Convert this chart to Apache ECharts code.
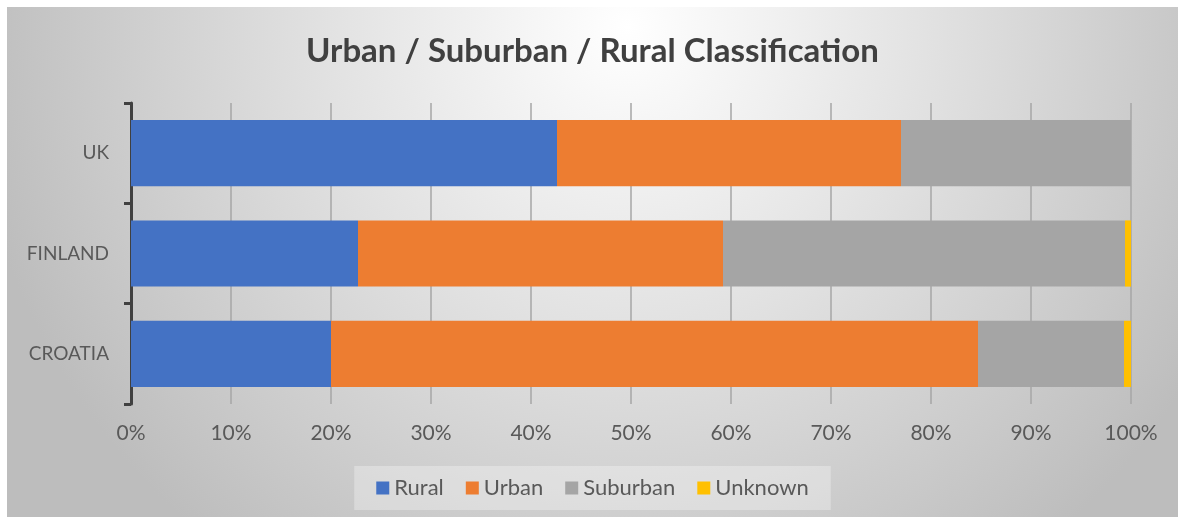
<!DOCTYPE html>
<html>
<head>
<meta charset="utf-8">
<title>Urban / Suburban / Rural Classification</title>
<script src="https://cdn.jsdelivr.net/npm/echarts@6/dist/echarts.min.js"></script>
<style>
  html, body { margin: 0; padding: 0; background: #ffffff; }
  #chart { position: absolute; left: 7px; top: 7px; width: 1171px; height: 510px; }
</style>
</head>
<body>
<div id="chart"></div>
<script>
'use strict';

/* ── Data (percent of each country) ── */
const countries = ['CROATIA', 'FINLAND', 'UK'];
const rural     = [20.0, 22.7, 42.6];
const urban     = [64.7, 36.5, 34.4];
const suburban  = [14.6, 40.2, 23.0];
const unknown   = [0.7, 0.6, 0];
const xTicks    = [0, 10, 20, 30, 40, 50, 60, 70, 80, 90, 100];

const FONT = "Lato, 'Open Sans', sans-serif";
const TEXT = '#595959';

function barSeries(name, data, color) {
  return {
    name: name,
    type: 'bar',
    stack: 'total',
    data: data,
    barWidth: '66%',
    itemStyle: { color: color },
    emphasis: { disabled: true }
  };
}

const chart = echarts.init(document.getElementById('chart'), null, { renderer: 'canvas' });

chart.setOption({
  animation: false,
  backgroundColor: {
    type: 'radial', x: 0.53, y: 0.04, r: 1.3,
    colorStops: [
      { offset: 0, color: '#ffffff' },
      { offset: 0.45, color: '#e2e2e2' },
      { offset: 1, color: '#bdbdbd' }
    ]
  },
  textStyle: { fontFamily: FONT },
  title: {
    text: 'Urban / Suburban / Rural Classification',
    left: 'center',
    top: 23,
    textStyle: { fontFamily: FONT, fontSize: 33, fontWeight: 'bold', color: '#404040' }
  },
  legend: {
    bottom: 7,
    left: 'center',
    itemWidth: 13,
    itemHeight: 13,
    itemGap: 22,
    padding: [11, 22],
    backgroundColor: 'rgba(255,255,255,0.3)',
    icon: 'rect',
    textStyle: { fontFamily: FONT, fontSize: 22, color: TEXT },
    data: ['Rural', 'Urban', 'Suburban', 'Unknown']
  },
  grid: { left: 124, right: 47, top: 96, bottom: 113 },
  xAxis: {
    type: 'value',
    min: xTicks[0],
    max: xTicks[xTicks.length - 1],
    interval: 10,
    axisLine: { show: false },
    axisTick: { show: false },
    axisLabel: {
      formatter: '{value}%',
      fontFamily: FONT, fontSize: 21, color: TEXT, margin: 19
    },
    splitLine: { lineStyle: { color: '#a6a6a6', width: 1.5 } }
  },
  yAxis: {
    type: 'category',
    data: countries,
    axisLine: { lineStyle: { color: '#404040', width: 3 } },
    axisTick: { show: true, length: 7, lineStyle: { color: '#404040', width: 3 } },
    axisLabel: { fontFamily: FONT, fontSize: 19, color: TEXT, margin: 22 }
  },
  series: [
    barSeries('Rural', rural, '#4472c4'),
    barSeries('Urban', urban, '#ed7d31'),
    barSeries('Suburban', suburban, '#a5a5a5'),
    barSeries('Unknown', unknown, '#ffc000')
  ]
});

window.addEventListener('resize', () => chart.resize());
</script>
</body>
</html>
